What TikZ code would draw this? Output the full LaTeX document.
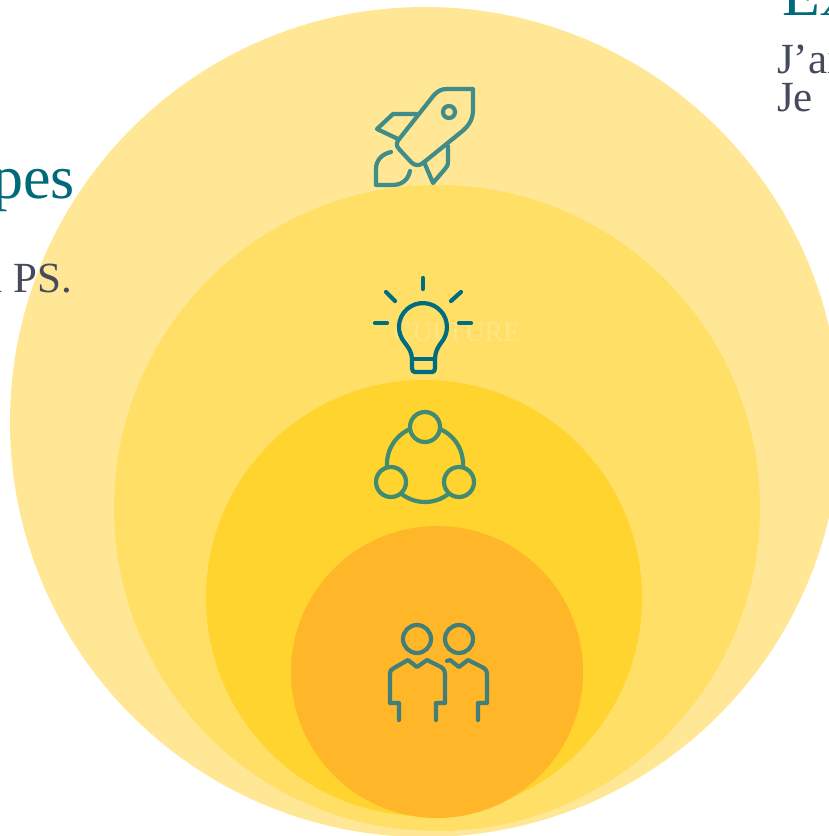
\documentclass[tikz,border=0pt]{standalone}
\usepackage{fontspec}
\setmainfont{Liberation Serif}
\definecolor{ringa}{HTML}{FFE795}
\definecolor{ringb}{HTML}{FFDF66}
\definecolor{ringc}{HTML}{FFD42E}
\definecolor{ringd}{HTML}{FFB729}
\definecolor{tealtitle}{HTML}{00697A}
\definecolor{greytext}{HTML}{454B5C}
\definecolor{rocketline}{HTML}{3F8C88}
\definecolor{bulbline}{HTML}{006C80}
\definecolor{groupline}{HTML}{438B70}
\definecolor{peopleline}{HTML}{437F78}
\begin{document}
\begin{tikzpicture}
    [
    x=1pt,y=-1pt,
    ring/.style={circle,inner sep=0pt,outer sep=0pt},
    icon/.style={line width=4.2pt,line cap=round,line join=round},
    dot/.style={circle,draw,inner sep=0pt,outer sep=0pt,line width=4.2pt},
    title/.style={anchor=base west,text=tealtitle,font=\fontsize{62}{62}\selectfont,inner sep=0pt},
    body/.style={anchor=base west,text=greytext,font=\fontsize{43}{43}\selectfont,inner sep=0pt}
    ]
    \clip (0,0) rectangle (829,836);
    \useasboundingbox (0,0) rectangle (829,836);
    % circles
    \node (outer) at (425,422) [ring,fill=ringa,minimum size=830pt] {};
    \node (second) at (437,508) [ring,fill=ringb,minimum size=646pt] {};
    \node (third) at (424,598) [ring,fill=ringc,minimum size=436pt] {};
    \node (inner) at (437,672) [ring,fill=ringd,minimum size=292pt] {};
    % texts
    \node (pes) at (75,198) [title,anchor=base east] {pes};
    \node (ps) at (72,292) [body,anchor=base east] {a PS.};
    \node (ex) at (782,15) [title] {Ex};
    \node (jai) at (777,73) [body] {J’ai};
    \node (je) at (777,111) [body] {Je};
    \node (culture) at (457,341) [anchor=base,inner sep=0pt,text=white,text opacity=0.2,font=\fontsize{28}{28}\selectfont] {CULTURE};
    % rocket
    \draw [icon,rocketline] (473,89) -- (447,89) .. controls (441,89) and (438,91) .. (434,95)
      -- (400,138) .. controls (396,142) and (396,146) .. (399,149)
      -- (411,162) .. controls (415,166) and (419,166) .. (423,163)
      -- (460,133) .. controls (468,127) and (473,120) .. (473,110) -- cycle;
    \node (window) at (449,112) [dot,rocketline,minimum size=12pt] {};
    \draw [icon,rocketline] (416,114) -- (393,114) -- (377,129) -- (398,139);
    \draw [icon,rocketline] (448,146) -- (448,161) .. controls (448,165) and (447,167) .. (445,169) -- (433,183) -- (424,162);
    \draw [icon,rocketline] (391,152) .. controls (382,154) and (376,160) .. (376,169) -- (376,185) -- (392,185)
      .. controls (402,185) and (408,180) .. (410,171);
    % bulb
    \draw [icon,bulbline] (423,278) -- (423,289);
    \draw [icon,bulbline] (386,292) -- (395,301);
    \draw [icon,bulbline] (461,292) -- (451,301);
    \draw [icon,bulbline] (375,323) -- (387,323);
    \draw [icon,bulbline] (459,323) -- (471,323);
    \draw [icon,bulbline] (412,359) .. controls (412,352) and (408,347) .. (405,343)
      arc [start angle=221.6,end angle=-41.6,radius=24pt]
      .. controls (438,347) and (435,352) .. (435,359) -- (435,368)
      .. controls (435,371) and (434,372) .. (432,372) -- (415,372)
      .. controls (413,372) and (412,371) .. (412,368) -- cycle;
    \draw [icon,bulbline] (412,359) -- (435,359);
    % group
    \node (wheel) at (425,464) [dot,groupline,minimum size=76pt] {};
    \node (top) at (425,427) [dot,groupline,fill=ringc,minimum size=30pt] {};
    \node (left) at (391,482) [dot,groupline,fill=ringc,minimum size=30pt] {};
    \node (right) at (459,482) [dot,groupline,fill=ringc,minimum size=30pt] {};
    % people
    \node (heada) at (417,639) [dot,peopleline,minimum size=28pt] {};
    \node (headb) at (459,639) [dot,peopleline,minimum size=28pt] {};
    \draw [icon,peopleline] (399,720) -- (399,703) -- (390,703) -- (390,675)
      .. controls (390,671) and (391,669) .. (394,668) -- (408,660) -- (417,667) -- (427,660) -- (441,667)
      .. controls (444,669) and (445,671) .. (445,675) -- (445,703) -- (436,703) -- (436,720);
    \draw [icon,peopleline] (447,661) -- (450,660) -- (459,667) -- (468,660) -- (482,667)
      .. controls (486,669) and (487,671) .. (487,675) -- (487,703) -- (478,703) -- (478,720);
  \end{tikzpicture}
\end{document}
